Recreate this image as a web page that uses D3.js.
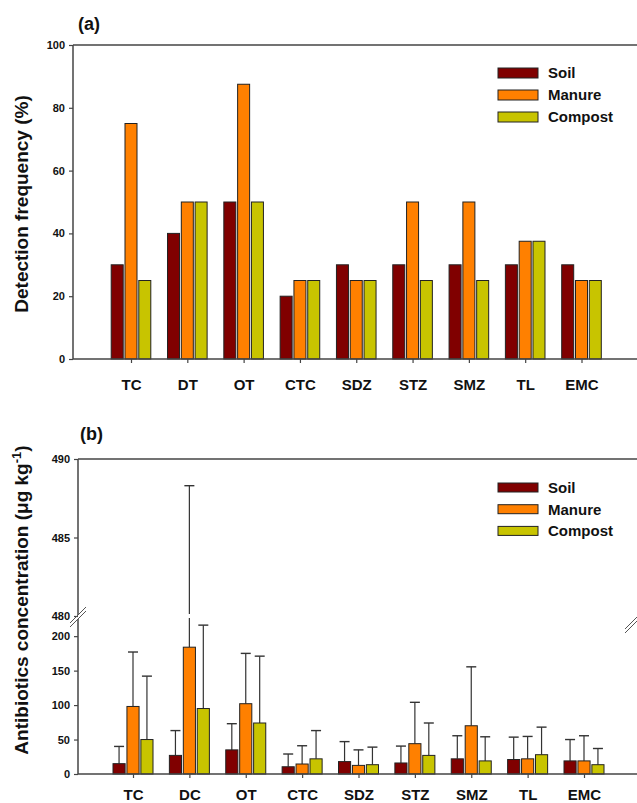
<!DOCTYPE html>
<html><head><meta charset="utf-8">
<script src="https://cdn.jsdelivr.net/npm/d3@7"></script>
<style>
html,body{margin:0;padding:0;background:#fff;}
text{font-family:"Liberation Sans",Arial,sans-serif;font-weight:bold;fill:#111;}
</style></head>
<body>
<svg id="c" width="637" height="803"></svg>
<script>
// ---- data ----
const seriesNames = ["Soil", "Manure", "Compost"];
const seriesColors = ["#800000", "#ff8000", "#c8c400"];

const catsA = ["TC", "DT", "OT", "CTC", "SDZ", "STZ", "SMZ", "TL", "EMC"];
const soilFreq    = [30, 40, 50, 20, 30, 30, 30, 30, 30];
const manureFreq  = [75, 50, 87.5, 25, 25, 50, 50, 37.5, 25];
const compostFreq = [25, 50, 50, 25, 25, 25, 25, 37.5, 25];
const ticksA = [0, 20, 40, 60, 80, 100];

const catsB = ["TC", "DC", "OT", "CTC", "SDZ", "STZ", "SMZ", "TL", "EMC"];
const soilConc     = [15, 27, 35, 10.5, 18, 16, 22, 21, 19];
const soilErrTop   = [40, 63, 73, 29, 47, 40.5, 55.5, 53.5, 50];
const manureConc   = [98, 184, 102, 14.5, 12.5, 44, 70, 22, 19];
const manureErrTop = [177, 488.3, 175, 41, 35, 104, 155.5, 54.5, 55.5];
const compostConc  = [50, 95, 74, 22, 13.5, 27, 19, 28, 13.5];
const compostErrTop= [142, 216, 171, 63, 39, 74, 54, 68, 37];
const ticksBLow  = [0, 50, 100, 150, 200];
const ticksBHigh = [480, 485, 490];

const svg = d3.select("#c");
const axisColor = "#444";

// ---------- Panel (a) ----------
{
  const left = 73, top = 45, bottom = 359, right = 637;
  const x = d3.scalePoint().domain(catsA).range([131, 581.5]);
  const xs = d3.scaleBand().domain(seriesNames).range([-19.8, 19.8]).paddingInner(0.13);
  const y = d3.scaleLinear().domain([0, 100]).range([bottom, top]);
  const data = [soilFreq, manureFreq, compostFreq];
  const g = svg.append("g");

  data.forEach((vals, si) => {
    g.selectAll(null).data(catsA).enter().append("rect")
      .attr("x", c => x(c) + xs(seriesNames[si]))
      .attr("y", (c, i) => y(vals[i]))
      .attr("width", xs.bandwidth())
      .attr("height", (c, i) => y(0) - y(vals[i]))
      .attr("fill", seriesColors[si])
      .attr("stroke", "#222").attr("stroke-width", 1);
  });

  const ya = g.append("g").attr("transform", `translate(${left},0)`)
    .call(d3.axisLeft(y).tickValues(ticksA).tickSize(4).tickPadding(4));
  ya.select(".domain").remove();
  g.append("line").attr("x1", left).attr("x2", left).attr("y1", top).attr("y2", bottom)
    .attr("stroke", axisColor).attr("stroke-width", 1.5);
  g.append("line").attr("x1", left).attr("x2", right).attr("y1", top).attr("y2", top)
    .attr("stroke", axisColor).attr("stroke-width", 1.5);
  const xa = g.append("g").attr("transform", `translate(0,${bottom})`)
    .call(d3.axisBottom(x).tickSize(4).tickPadding(16));
  xa.select(".domain").remove();
  g.append("line").attr("x1", left).attr("x2", right).attr("y1", bottom).attr("y2", bottom)
    .attr("stroke", axisColor).attr("stroke-width", 1.5);
  ya.selectAll("text").style("font-size", "11px").style("font-family", "Liberation Sans, Arial").style("font-weight", "bold");
  xa.selectAll("text").style("font-size", "15px").style("font-family", "Liberation Sans, Arial").style("font-weight", "bold");
  g.selectAll(".tick line").attr("stroke", axisColor).attr("stroke-width", 1.2);

  g.append("text").attr("x", 78).attr("y", 30).style("font-size", "18px").text("(a)");
  g.append("text").attr("transform", `translate(28,${(top + bottom) / 2 + 2}) rotate(-90)`)
    .attr("text-anchor", "middle").style("font-size", "19px").text("Detection frequency (%)");

  // legend
  const lg = g.append("g");
  seriesNames.forEach((s, i) => {
    lg.append("rect").attr("x", 498).attr("y", 68 + i * 22).attr("width", 40).attr("height", 10)
      .attr("fill", seriesColors[i]).attr("stroke", "#222").attr("stroke-width", 1);
    lg.append("text").attr("x", 548).attr("y", 78 + i * 22).style("font-size", "15px").text(s);
  });
}

// ---------- Panel (b) ----------
{
  const left = 78, top = 459, bottom = 774, right = 637;
  const x = d3.scalePoint().domain(catsB).range([133, 584]);
  const xs = d3.scaleBand().domain(seriesNames).range([-20, 20]).paddingInner(0.13);
  const yLow = d3.scaleLinear().domain([0, 222]).range([bottom, 621]);
  const yHigh = d3.scaleLinear().domain([480, 490]).range([616, top]);
  const yv = v => v <= 222 ? yLow(v) : yHigh(v);
  const vals = [soilConc, manureConc, compostConc];
  const errs = [soilErrTop, manureErrTop, compostErrTop];
  const g = svg.append("g");

  // error bars (drawn under bars)
  vals.forEach((vs, si) => {
    catsB.forEach((c, i) => {
      const cx = x(c) + xs(seriesNames[si]) + xs.bandwidth() / 2;
      const e = errs[si][i];
      if (e > 222) {
        g.append("line").attr("x1", cx).attr("x2", cx).attr("y1", yLow(vs[i])).attr("y2", yLow(222) - 3)
          .attr("stroke", "#333").attr("stroke-width", 1.2);
        g.append("line").attr("x1", cx).attr("x2", cx).attr("y1", yHigh(480) - 2).attr("y2", yHigh(e))
          .attr("stroke", "#333").attr("stroke-width", 1.2);
      } else {
        g.append("line").attr("x1", cx).attr("x2", cx).attr("y1", yLow(vs[i])).attr("y2", yLow(e))
          .attr("stroke", "#333").attr("stroke-width", 1.2);
      }
      g.append("line").attr("x1", cx - 5).attr("x2", cx + 5).attr("y1", yv(e)).attr("y2", yv(e))
        .attr("stroke", "#333").attr("stroke-width", 1.4);
    });
  });

  vals.forEach((vs, si) => {
    g.selectAll(null).data(catsB).enter().append("rect")
      .attr("x", c => x(c) + xs(seriesNames[si]))
      .attr("y", (c, i) => yLow(vs[i]))
      .attr("width", xs.bandwidth())
      .attr("height", (c, i) => yLow(0) - yLow(vs[i]))
      .attr("fill", seriesColors[si])
      .attr("stroke", "#222").attr("stroke-width", 1);
  });

  const yaL = g.append("g").attr("transform", `translate(${left},0)`)
    .call(d3.axisLeft(yLow).tickValues(ticksBLow).tickSize(4).tickPadding(4));
  yaL.select(".domain").remove();
  const yaH = g.append("g").attr("transform", `translate(${left},0)`)
    .call(d3.axisLeft(yHigh).tickValues(ticksBHigh).tickSize(4).tickPadding(4));
  yaH.select(".domain").remove();
  g.append("line").attr("x1", left).attr("x2", left).attr("y1", top).attr("y2", 615)
    .attr("stroke", axisColor).attr("stroke-width", 1.5);
  g.append("line").attr("x1", left).attr("x2", left).attr("y1", 619).attr("y2", bottom)
    .attr("stroke", axisColor).attr("stroke-width", 1.5);
  g.append("line").attr("x1", left).attr("x2", right).attr("y1", top).attr("y2", top)
    .attr("stroke", axisColor).attr("stroke-width", 1.5);
  const xa = g.append("g").attr("transform", `translate(0,${bottom})`)
    .call(d3.axisBottom(x).tickSize(4).tickPadding(11));
  xa.select(".domain").remove();
  g.append("line").attr("x1", left).attr("x2", right).attr("y1", bottom).attr("y2", bottom)
    .attr("stroke", axisColor).attr("stroke-width", 1.5);
  g.selectAll(".tick text").style("font-family", "Liberation Sans, Arial").style("font-weight", "bold");
  yaL.selectAll("text").style("font-size", "11px");
  yaH.selectAll("text").style("font-size", "11px");
  xa.selectAll("text").style("font-size", "15px");
  g.selectAll(".tick line").attr("stroke", axisColor).attr("stroke-width", 1.2);

  // break marks
  [[left, 617], [633, 623]].forEach(([bx, by]) => {
    [-2, 2].forEach(d => {
      g.append("line").attr("x1", bx - 8).attr("y1", by + 8 + d).attr("x2", bx + 8).attr("y2", by - 8 + d)
        .attr("stroke", "#555").attr("stroke-width", 1);
    });
  });

  g.append("text").attr("x", 80).attr("y", 440).style("font-size", "18px").text("(b)");
  const t = g.append("text").attr("transform", `translate(28,600) rotate(-90)`)
    .attr("text-anchor", "middle").style("font-size", "19px");
  t.append("tspan").text("Antibiotics concentration (μg kg");
  t.append("tspan").attr("dy", -7).style("font-size", "13px").text("-1");
  t.append("tspan").attr("dy", 7).text(")");

  const lg = g.append("g");
  seriesNames.forEach((s, i) => {
    lg.append("rect").attr("x", 498).attr("y", 483 + i * 21.7).attr("width", 40).attr("height", 9)
      .attr("fill", seriesColors[i]).attr("stroke", "#222").attr("stroke-width", 1);
    lg.append("text").attr("x", 548).attr("y", 493 + i * 21.7).style("font-size", "15px").text(s);
  });
}
</script>
</body></html>
